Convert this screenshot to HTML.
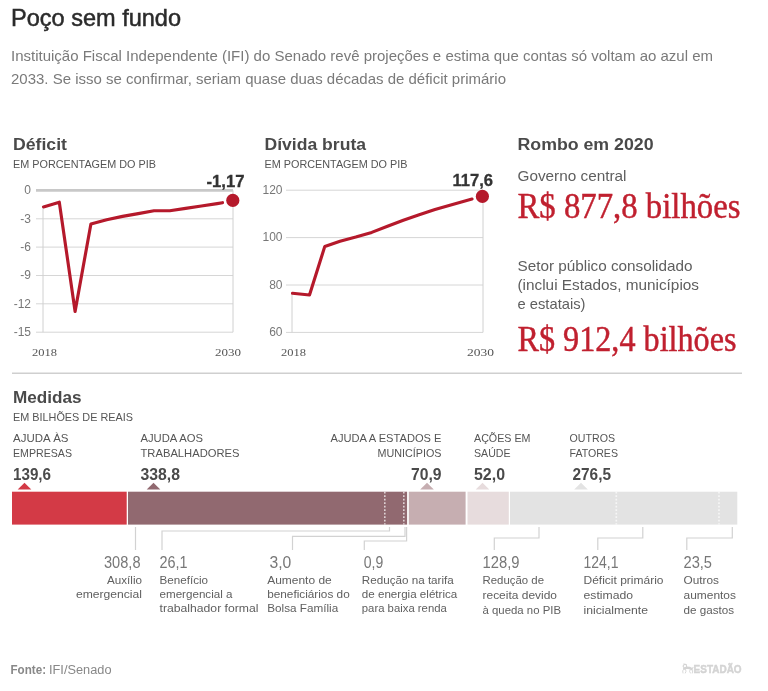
<!DOCTYPE html>
<html lang="pt-BR"><head><meta charset="utf-8"><title>Poço sem fundo</title>
<style>html,body{margin:0;padding:0;background:#fff}svg{display:block}</style></head>
<body>
<svg width="768" height="691" viewBox="0 0 768 691">
<rect width="768" height="691" fill="#fff"/>
<text x="11" y="26.2" font-family='"Liberation Sans", sans-serif' font-size="24" font-weight="400" fill="#2b2b2b" textLength="170" lengthAdjust="spacingAndGlyphs" stroke="#2b2b2b" stroke-width="0.5">Poço sem fundo</text>
<text x="11" y="60.8" font-family='"Liberation Sans", sans-serif' font-size="15" font-weight="400" fill="#7a7a7a" textLength="702" lengthAdjust="spacingAndGlyphs">Instituição Fiscal Independente (IFI) do Senado revê projeções e estima que contas só voltam ao azul em</text>
<text x="11" y="84.2" font-family='"Liberation Sans", sans-serif' font-size="15" font-weight="400" fill="#7a7a7a" textLength="495" lengthAdjust="spacingAndGlyphs">2033. Se isso se confirmar, seriam quase duas décadas de déficit primário</text>
<text x="13" y="149.5" font-family='"Liberation Sans", sans-serif' font-size="16" font-weight="700" fill="#4a4a4a" textLength="54" lengthAdjust="spacingAndGlyphs">Déficit</text>
<text x="13" y="167.5" font-family='"Liberation Sans", sans-serif' font-size="10.5" font-weight="400" fill="#555" textLength="143" lengthAdjust="spacingAndGlyphs">EM PORCENTAGEM DO PIB</text>
<line x1="36" x2="233" y1="190.4" y2="190.4" stroke="#c8c8c8" stroke-width="2.6"/>
<line x1="36" x2="233" y1="218.8" y2="218.8" stroke="#d6d6d6" stroke-width="1"/>
<line x1="36" x2="233" y1="247.1" y2="247.1" stroke="#d6d6d6" stroke-width="1"/>
<line x1="36" x2="233" y1="275.5" y2="275.5" stroke="#d6d6d6" stroke-width="1"/>
<line x1="36" x2="233" y1="303.8" y2="303.8" stroke="#d6d6d6" stroke-width="1"/>
<line x1="36" x2="233" y1="332.2" y2="332.2" stroke="#d6d6d6" stroke-width="1"/>
<line x1="43" x2="43" y1="207" y2="332.2" stroke="#d0d0d0" stroke-width="1"/>
<line x1="233" x2="233" y1="190.4" y2="332.2" stroke="#d0d0d0" stroke-width="1"/>
<text x="31" y="194.20000000000002" font-family='"Liberation Sans", sans-serif' font-size="12" font-weight="400" fill="#777" text-anchor="end">0</text>
<text x="31" y="222.56" font-family='"Liberation Sans", sans-serif' font-size="12" font-weight="400" fill="#777" text-anchor="end">-3</text>
<text x="31" y="250.92000000000002" font-family='"Liberation Sans", sans-serif' font-size="12" font-weight="400" fill="#777" text-anchor="end">-6</text>
<text x="31" y="279.28000000000003" font-family='"Liberation Sans", sans-serif' font-size="12" font-weight="400" fill="#777" text-anchor="end">-9</text>
<text x="31" y="307.64000000000004" font-family='"Liberation Sans", sans-serif' font-size="12" font-weight="400" fill="#777" text-anchor="end">-12</text>
<text x="31" y="336.00000000000006" font-family='"Liberation Sans", sans-serif' font-size="12" font-weight="400" fill="#777" text-anchor="end">-15</text>
<polyline points="43.5,206.9 59.3,202.2 75.1,311.4 90.9,224.0 106.7,219.7 122.5,216.4 138.2,213.6 154.0,210.7 169.8,210.7 185.6,208.4 201.4,206.0 217.2,203.6 222.5,202.7" fill="none" stroke="#b5192b" stroke-width="3.15" stroke-linejoin="round" stroke-linecap="round"/>
<circle cx="232.8" cy="200.4" r="6.6" fill="#b5192b"/>
<text x="206.5" y="186.7" font-family='"Liberation Sans", sans-serif' font-size="16" font-weight="700" fill="#333" textLength="38" lengthAdjust="spacingAndGlyphs" stroke="#333" stroke-width="0.3">-1,17</text>
<text x="32" y="355.5" font-family='"Liberation Serif", serif' font-size="10" font-weight="400" fill="#555" textLength="25" lengthAdjust="spacingAndGlyphs">2018</text>
<text x="215" y="355.5" font-family='"Liberation Serif", serif' font-size="10" font-weight="400" fill="#555" textLength="26" lengthAdjust="spacingAndGlyphs">2030</text>
<text x="264.5" y="149.5" font-family='"Liberation Sans", sans-serif' font-size="16" font-weight="700" fill="#4a4a4a" textLength="101.5" lengthAdjust="spacingAndGlyphs">Dívida bruta</text>
<text x="264.5" y="167.5" font-family='"Liberation Sans", sans-serif' font-size="10.5" font-weight="400" fill="#555" textLength="143" lengthAdjust="spacingAndGlyphs">EM PORCENTAGEM DO PIB</text>
<line x1="286" x2="483" y1="190.2" y2="190.2" stroke="#d6d6d6" stroke-width="1"/>
<text x="282.5" y="194.0" font-family='"Liberation Sans", sans-serif' font-size="12" font-weight="400" fill="#777" text-anchor="end">120</text>
<line x1="286" x2="483" y1="237.6" y2="237.6" stroke="#d6d6d6" stroke-width="1"/>
<text x="282.5" y="241.4" font-family='"Liberation Sans", sans-serif' font-size="12" font-weight="400" fill="#777" text-anchor="end">100</text>
<line x1="286" x2="483" y1="285.0" y2="285.0" stroke="#d6d6d6" stroke-width="1"/>
<text x="282.5" y="288.8" font-family='"Liberation Sans", sans-serif' font-size="12" font-weight="400" fill="#777" text-anchor="end">80</text>
<line x1="286" x2="483" y1="332.4" y2="332.4" stroke="#d6d6d6" stroke-width="1"/>
<text x="282.5" y="336.2" font-family='"Liberation Sans", sans-serif' font-size="12" font-weight="400" fill="#777" text-anchor="end">60</text>
<line x1="292" x2="292" y1="293" y2="332.4" stroke="#d0d0d0" stroke-width="1"/>
<line x1="483" x2="483" y1="190.2" y2="332.4" stroke="#d0d0d0" stroke-width="1"/>
<polyline points="292.5,293.3 309.5,295.0 324.8,246.4 340.0,241.2 355.8,237.1 371.7,232.4 387.5,226.2 403.3,220.3 419.2,214.8 435.0,209.6 450.8,204.9 466.7,200.4 472.0,199.0" fill="none" stroke="#b5192b" stroke-width="3.15" stroke-linejoin="round" stroke-linecap="round"/>
<circle cx="482.4" cy="196.4" r="6.6" fill="#b5192b"/>
<text x="452.5" y="185.8" font-family='"Liberation Sans", sans-serif' font-size="16" font-weight="700" fill="#333" textLength="40.5" lengthAdjust="spacingAndGlyphs" stroke="#333" stroke-width="0.3">117,6</text>
<text x="281" y="355.5" font-family='"Liberation Serif", serif' font-size="10" font-weight="400" fill="#555" textLength="25" lengthAdjust="spacingAndGlyphs">2018</text>
<text x="467" y="355.5" font-family='"Liberation Serif", serif' font-size="10" font-weight="400" fill="#555" textLength="27" lengthAdjust="spacingAndGlyphs">2030</text>
<text x="517.5" y="149.5" font-family='"Liberation Sans", sans-serif' font-size="16" font-weight="700" fill="#4a4a4a" textLength="136" lengthAdjust="spacingAndGlyphs">Rombo em 2020</text>
<text x="517.5" y="180.8" font-family='"Liberation Sans", sans-serif' font-size="15" font-weight="400" fill="#5e5e5e" textLength="109" lengthAdjust="spacingAndGlyphs">Governo central</text>
<text x="517.5" y="217.5" font-family='"Liberation Serif", serif' font-size="35.5" font-weight="400" fill="#c0202f" textLength="223" lengthAdjust="spacingAndGlyphs" stroke="#c0202f" stroke-width="0.45">R$ 877,8 bilhões</text>
<text x="517.5" y="271.2" font-family='"Liberation Sans", sans-serif' font-size="15" font-weight="400" fill="#5e5e5e" textLength="175" lengthAdjust="spacingAndGlyphs">Setor público consolidado</text>
<text x="517.5" y="290.3" font-family='"Liberation Sans", sans-serif' font-size="15" font-weight="400" fill="#5e5e5e" textLength="181.5" lengthAdjust="spacingAndGlyphs">(inclui Estados, municípios</text>
<text x="517.5" y="309" font-family='"Liberation Sans", sans-serif' font-size="15" font-weight="400" fill="#5e5e5e" textLength="68" lengthAdjust="spacingAndGlyphs">e estatais)</text>
<text x="517.5" y="350.7" font-family='"Liberation Serif", serif' font-size="35.5" font-weight="400" fill="#c0202f" textLength="219" lengthAdjust="spacingAndGlyphs" stroke="#c0202f" stroke-width="0.45">R$ 912,4 bilhões</text>
<line x1="12" x2="742" y1="373.3" y2="373.3" stroke="#cfcfcf" stroke-width="1.6"/>
<text x="13" y="403" font-family='"Liberation Sans", sans-serif' font-size="16" font-weight="700" fill="#4a4a4a" textLength="68.5" lengthAdjust="spacingAndGlyphs">Medidas</text>
<text x="13" y="421.3" font-family='"Liberation Sans", sans-serif' font-size="10.5" font-weight="400" fill="#555" textLength="120" lengthAdjust="spacingAndGlyphs">EM BILHÕES DE REAIS</text>
<text x="13" y="441.6" font-family='"Liberation Sans", sans-serif' font-size="10.5" font-weight="400" fill="#555" textLength="55.5" lengthAdjust="spacingAndGlyphs">AJUDA ÀS</text>
<text x="13" y="457.2" font-family='"Liberation Sans", sans-serif' font-size="10.5" font-weight="400" fill="#555" textLength="59" lengthAdjust="spacingAndGlyphs">EMPRESAS</text>
<text x="13" y="479.6" font-family='"Liberation Sans", sans-serif' font-size="16" font-weight="700" fill="#4a4a4a" textLength="38" lengthAdjust="spacingAndGlyphs">139,6</text>
<text x="140.5" y="441.6" font-family='"Liberation Sans", sans-serif' font-size="10.5" font-weight="400" fill="#555" textLength="62.5" lengthAdjust="spacingAndGlyphs">AJUDA AOS</text>
<text x="140.5" y="457.2" font-family='"Liberation Sans", sans-serif' font-size="10.5" font-weight="400" fill="#555" textLength="99" lengthAdjust="spacingAndGlyphs">TRABALHADORES</text>
<text x="140.5" y="479.6" font-family='"Liberation Sans", sans-serif' font-size="16" font-weight="700" fill="#4a4a4a" textLength="39.5" lengthAdjust="spacingAndGlyphs">338,8</text>
<text x="330.5" y="441.6" font-family='"Liberation Sans", sans-serif' font-size="10.5" font-weight="400" fill="#555" textLength="111" lengthAdjust="spacingAndGlyphs">AJUDA A ESTADOS E</text>
<text x="377.5" y="457.2" font-family='"Liberation Sans", sans-serif' font-size="10.5" font-weight="400" fill="#555" textLength="64" lengthAdjust="spacingAndGlyphs">MUNICÍPIOS</text>
<text x="411.0" y="479.6" font-family='"Liberation Sans", sans-serif' font-size="16" font-weight="700" fill="#4a4a4a" textLength="30.5" lengthAdjust="spacingAndGlyphs">70,9</text>
<text x="474" y="441.6" font-family='"Liberation Sans", sans-serif' font-size="10.5" font-weight="400" fill="#555" textLength="56.5" lengthAdjust="spacingAndGlyphs">AÇÕES EM</text>
<text x="474" y="457.2" font-family='"Liberation Sans", sans-serif' font-size="10.5" font-weight="400" fill="#555" textLength="36.5" lengthAdjust="spacingAndGlyphs">SAÚDE</text>
<text x="474" y="479.6" font-family='"Liberation Sans", sans-serif' font-size="16" font-weight="700" fill="#4a4a4a" textLength="31" lengthAdjust="spacingAndGlyphs">52,0</text>
<text x="569.5" y="441.6" font-family='"Liberation Sans", sans-serif' font-size="10.5" font-weight="400" fill="#555" textLength="45.5" lengthAdjust="spacingAndGlyphs">OUTROS</text>
<text x="569.5" y="457.2" font-family='"Liberation Sans", sans-serif' font-size="10.5" font-weight="400" fill="#555" textLength="48.5" lengthAdjust="spacingAndGlyphs">FATORES</text>
<text x="572.5" y="479.6" font-family='"Liberation Sans", sans-serif' font-size="16" font-weight="700" fill="#4a4a4a" textLength="38.5" lengthAdjust="spacingAndGlyphs">276,5</text>
<polygon points="17.7,489.5 24.5,482.7 31.3,489.5" fill="#d33a46"/>
<polygon points="146.7,489.5 153.5,482.7 160.3,489.5" fill="#916970"/>
<polygon points="420.2,489.5 427,482.7 433.8,489.5" fill="#c6aeb1"/>
<polygon points="475.7,489.5 482.5,482.7 489.3,489.5" fill="#e7dcdd"/>
<polygon points="574.2,489.5 581,482.7 587.8,489.5" fill="#e3e3e3"/>
<rect x="12" y="491.7" width="114.70" height="32.9" fill="#d33a46"/>
<rect x="128" y="491.7" width="279.10" height="32.9" fill="#916970"/>
<rect x="408.8" y="491.7" width="56.80" height="32.9" fill="#c6aeb1"/>
<rect x="467.5" y="491.7" width="41.30" height="32.9" fill="#e7dcdd"/>
<rect x="510" y="491.7" width="227.30" height="32.9" fill="#e3e3e3"/>
<line x1="384.8" x2="384.8" y1="491.7" y2="524.6" stroke="#fff" stroke-width="1.6" stroke-dasharray="1.7 1.8" opacity="0.7"/>
<line x1="403.8" x2="403.8" y1="491.7" y2="524.6" stroke="#fff" stroke-width="1.6" stroke-dasharray="1.7 1.8" opacity="0.7"/>
<line x1="616.3" x2="616.3" y1="491.7" y2="524.6" stroke="#fff" stroke-width="1.6" stroke-dasharray="1.7 1.8" opacity="0.7"/>
<line x1="719" x2="719" y1="491.7" y2="524.6" stroke="#fff" stroke-width="1.6" stroke-dasharray="1.7 1.8" opacity="0.7"/>
<path d="M135.5 527V550" fill="none" stroke="#d2d2d2" stroke-width="1.2"/>
<path d="M162 550V531H389.5V527" fill="none" stroke="#d2d2d2" stroke-width="1.2"/>
<path d="M292.5 550V536.4H405V527" fill="none" stroke="#d2d2d2" stroke-width="1.2"/>
<path d="M364.3 550V541H406.6V527" fill="none" stroke="#d2d2d2" stroke-width="1.2"/>
<path d="M494.3 550V538H539V527" fill="none" stroke="#d2d2d2" stroke-width="1.2"/>
<path d="M597.8 550V538H642.8V527" fill="none" stroke="#d2d2d2" stroke-width="1.2"/>
<path d="M686.8 550V538H732.3V527" fill="none" stroke="#d2d2d2" stroke-width="1.2"/>
<text x="104.0" y="568.2" font-family='"Liberation Sans", sans-serif' font-size="16" font-weight="400" fill="#777" textLength="36.5" lengthAdjust="spacingAndGlyphs">308,8</text>
<text x="107.0" y="583.7" font-family='"Liberation Sans", sans-serif' font-size="11.5" font-weight="400" fill="#606060" textLength="35" lengthAdjust="spacingAndGlyphs">Auxílio</text>
<text x="76.0" y="597.6" font-family='"Liberation Sans", sans-serif' font-size="11.5" font-weight="400" fill="#606060" textLength="66" lengthAdjust="spacingAndGlyphs">emergencial</text>
<text x="159.5" y="568.3" font-family='"Liberation Sans", sans-serif' font-size="16" font-weight="400" fill="#777" textLength="28" lengthAdjust="spacingAndGlyphs">26,1</text>
<text x="159.5" y="583.7" font-family='"Liberation Sans", sans-serif' font-size="11.5" font-weight="400" fill="#606060" textLength="48.5" lengthAdjust="spacingAndGlyphs">Benefício</text>
<text x="159.5" y="597.6" font-family='"Liberation Sans", sans-serif' font-size="11.5" font-weight="400" fill="#606060" textLength="73" lengthAdjust="spacingAndGlyphs">emergencial a</text>
<text x="159.5" y="611.7" font-family='"Liberation Sans", sans-serif' font-size="11.5" font-weight="400" fill="#606060" textLength="99" lengthAdjust="spacingAndGlyphs">trabalhador formal</text>
<text x="269.5" y="568.3" font-family='"Liberation Sans", sans-serif' font-size="16" font-weight="400" fill="#777" textLength="21.8" lengthAdjust="spacingAndGlyphs">3,0</text>
<text x="267.2" y="583.7" font-family='"Liberation Sans", sans-serif' font-size="11.5" font-weight="400" fill="#606060" textLength="64.5" lengthAdjust="spacingAndGlyphs">Aumento de</text>
<text x="267.2" y="597.6" font-family='"Liberation Sans", sans-serif' font-size="11.5" font-weight="400" fill="#606060" textLength="82.5" lengthAdjust="spacingAndGlyphs">beneficiários do</text>
<text x="267.2" y="611.7" font-family='"Liberation Sans", sans-serif' font-size="11.5" font-weight="400" fill="#606060" textLength="71" lengthAdjust="spacingAndGlyphs">Bolsa Família</text>
<text x="363.8" y="568.3" font-family='"Liberation Sans", sans-serif' font-size="16" font-weight="400" fill="#777" textLength="19.5" lengthAdjust="spacingAndGlyphs">0,9</text>
<text x="361.8" y="583.7" font-family='"Liberation Sans", sans-serif' font-size="11.5" font-weight="400" fill="#606060" textLength="92" lengthAdjust="spacingAndGlyphs">Redução na tarifa</text>
<text x="361.8" y="597.6" font-family='"Liberation Sans", sans-serif' font-size="11.5" font-weight="400" fill="#606060" textLength="95.5" lengthAdjust="spacingAndGlyphs">de energia elétrica</text>
<text x="361.8" y="611.7" font-family='"Liberation Sans", sans-serif' font-size="11.5" font-weight="400" fill="#606060" textLength="85" lengthAdjust="spacingAndGlyphs">para baixa renda</text>
<text x="482.5" y="568.3" font-family='"Liberation Sans", sans-serif' font-size="16" font-weight="400" fill="#777" textLength="37" lengthAdjust="spacingAndGlyphs">128,9</text>
<text x="482.5" y="583.7" font-family='"Liberation Sans", sans-serif' font-size="11.5" font-weight="400" fill="#606060" textLength="61.5" lengthAdjust="spacingAndGlyphs">Redução de</text>
<text x="482.5" y="599" font-family='"Liberation Sans", sans-serif' font-size="11.5" font-weight="400" fill="#606060" textLength="74.5" lengthAdjust="spacingAndGlyphs">receita devido</text>
<text x="482.5" y="613.8" font-family='"Liberation Sans", sans-serif' font-size="11.5" font-weight="400" fill="#606060" textLength="78.5" lengthAdjust="spacingAndGlyphs">à queda no PIB</text>
<text x="583.5" y="568.3" font-family='"Liberation Sans", sans-serif' font-size="16" font-weight="400" fill="#777" textLength="35" lengthAdjust="spacingAndGlyphs">124,1</text>
<text x="583.5" y="583.7" font-family='"Liberation Sans", sans-serif' font-size="11.5" font-weight="400" fill="#606060" textLength="80" lengthAdjust="spacingAndGlyphs">Déficit primário</text>
<text x="583.5" y="599" font-family='"Liberation Sans", sans-serif' font-size="11.5" font-weight="400" fill="#606060" textLength="49.5" lengthAdjust="spacingAndGlyphs">estimado</text>
<text x="583.5" y="613.8" font-family='"Liberation Sans", sans-serif' font-size="11.5" font-weight="400" fill="#606060" textLength="64.5" lengthAdjust="spacingAndGlyphs">inicialmente</text>
<text x="683.5" y="568.3" font-family='"Liberation Sans", sans-serif' font-size="16" font-weight="400" fill="#777" textLength="28.5" lengthAdjust="spacingAndGlyphs">23,5</text>
<text x="683.5" y="583.7" font-family='"Liberation Sans", sans-serif' font-size="11.5" font-weight="400" fill="#606060" textLength="35.5" lengthAdjust="spacingAndGlyphs">Outros</text>
<text x="683.5" y="599" font-family='"Liberation Sans", sans-serif' font-size="11.5" font-weight="400" fill="#606060" textLength="52.5" lengthAdjust="spacingAndGlyphs">aumentos</text>
<text x="683.5" y="613.8" font-family='"Liberation Sans", sans-serif' font-size="11.5" font-weight="400" fill="#606060" textLength="50.5" lengthAdjust="spacingAndGlyphs">de gastos</text>
<text x="10.5" y="673.8" font-family='"Liberation Sans", sans-serif' font-size="12" font-weight="700" fill="#888" textLength="35.5" lengthAdjust="spacingAndGlyphs">Fonte:</text>
<text x="49" y="673.8" font-family='"Liberation Sans", sans-serif' font-size="12" font-weight="400" fill="#888" textLength="62.5" lengthAdjust="spacingAndGlyphs">IFI/Senado</text>
<g fill="none" stroke="#d4d4d4" stroke-linecap="round" stroke-linejoin="round"><path d="M684.2 668.6l2.2-.9 3.4.3 1.8 1.1" stroke-width="2.3"/><path d="M684 669.2l-1.3 1.6.3 2.2M685.6 669.6l.4 1.7-.7 1.7M690.2 669.6l-.6 1.8.8 1.6M691.6 669.4l1.1 1.5-.4 2.1" stroke-width="0.9"/><path d="M684.4 668.2l-1.4-2.2 1.2-1.3M686.6 667l-.3-2.2M686.3 664.6l-2.6-.6M691.8 668.6l1.2-1" stroke-width="1.1"/></g>
<text x="693.6" y="673.3" font-family='"Liberation Sans", sans-serif' font-size="11.6" font-weight="700" fill="#d4d4d4" textLength="48" lengthAdjust="spacingAndGlyphs" stroke="#d4d4d4" stroke-width="0.5">ESTADÃO</text>
</svg>
</body></html>
